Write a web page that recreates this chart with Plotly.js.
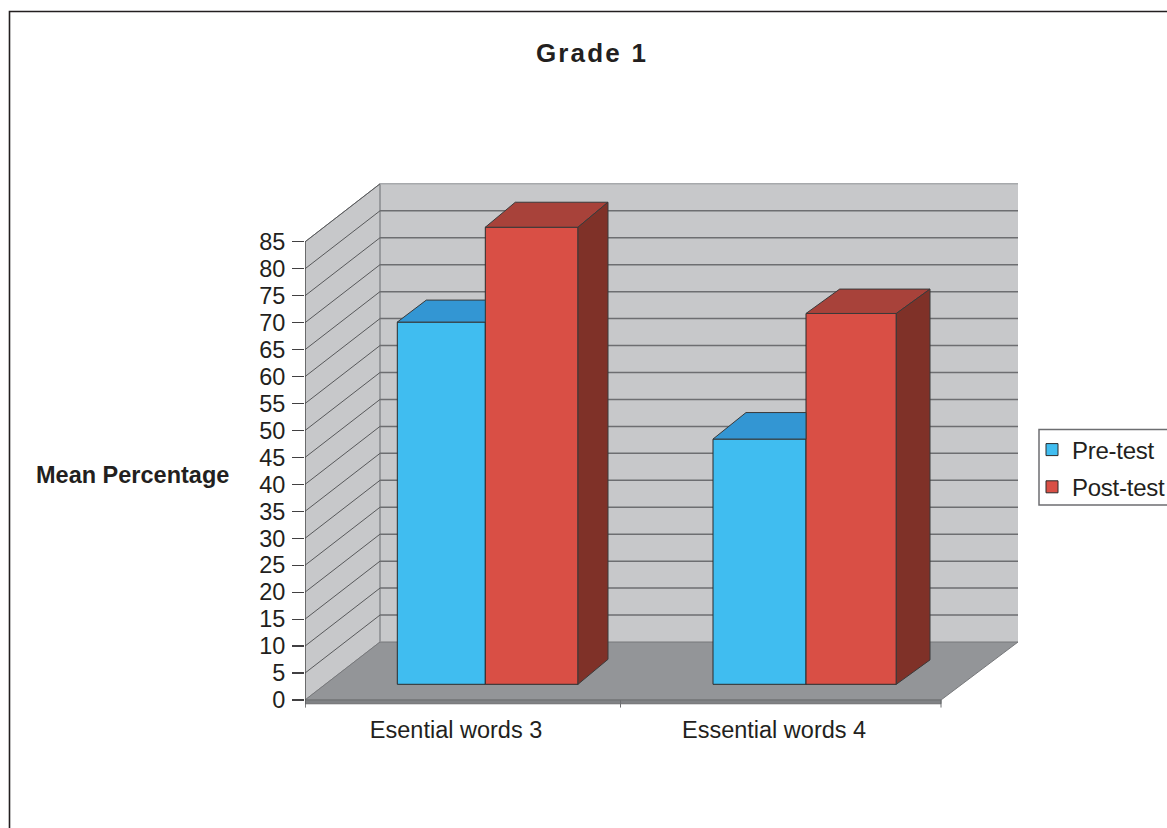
<!DOCTYPE html>
<html>
<head>
<meta charset="utf-8">
<script src="https://cdn.plot.ly/plotly-3.0.1.min.js"></script>
<style>
html,body{margin:0;padding:0;background:#fff;overflow:hidden}
#chart{width:1240px;height:828px}
.gtitle{letter-spacing:2.2px}
.legendtext{letter-spacing:-0.25px}
</style>
</head>
<body>
<div id="chart"></div>
<script>
// ---- data ----
const chartTitle = "Grade 1";
const yAxisLabel = "Mean Percentage";
const categories = ["Esential words 3", "Essential words 4"];
const seriesNames = ["Pre-test", "Post-test"];
const preTest = [67.2, 45.5];
const postTest = [84.8, 68.8];
const yTicks = [0,5,10,15,20,25,30,35,40,45,50,55,60,65,70,75,80,85];

// ---- styles ----
const font = "Liberation Sans, Arial, sans-serif";
const ink = "#231f20";
const wallColor = "#c7c8ca", floorColor = "#939598", floorEdge = "#808285", gridColor = "#6d6e71";
const preFront = "#40bdf0", preTop = "#3396d3";
const postFront = "#d94f45", postTop = "#a8423a", postSide = "#7f3128";

// ---- frame geometry (page pixels); the canvas runs past the window so the legend box is cut off at its edge ----
const W = 1240, H = 828;
const plotL = 305, plotR = W, plotT = 182, plotB = 708, zeroPx = 700;
const pxPerCat = 318, pxPerUnit = 5.39;
const X = px => (px - plotL) / pxPerCat;          // page px -> x data
const lenX = px => px / pxPerCat;
const lenY = px => px / pxPerUnit;
const paperX = px => (px - plotL) / (plotR - plotL);
const paperY = py => (plotB - py) / (plotB - plotT);

const wallDX = lenX(75), wallDY = lenY(58);
const frontEnd = categories.length;               // right end of the front edge
const backEnd = X(1018);                          // right end of the back wall
const floorLift = lenY(15.7);                     // bars stand inside the floor
const preDepthX = [lenX(29), lenX(33)], preDepthY = [lenY(22), lenY(26.5)];
const postDepthX = [lenX(30), lenX(33.7)], postDepthY = [lenY(25), lenY(24.4)];
const preLeft = [X(397.3), X(713)], midEdge = [X(485.3), X(806)], postRight = [X(578), X(896.3)];

// ---- walls, floor and grid as shapes below the traces ----
const poly = (xs, ys) => "M" + xs.map((x, i) => x + "," + ys[i]).join("L") + "Z";
const dataShape = o => Object.assign({xref: "x", yref: "y", layer: "below"}, o);
const hairline = {width: 0};
const topV = 85;
const shapes = [
  dataShape({type: "path", path: poly([wallDX, wallDX, backEnd, backEnd],
      [wallDY, topV + wallDY, topV + wallDY, wallDY]), fillcolor: wallColor, line: hairline}),
  dataShape({type: "path", path: poly([0, wallDX, wallDX, 0], [0, wallDY, topV + wallDY, topV]),
      fillcolor: wallColor, line: {color: "#8a8c8e", width: 1}}),
  dataShape({type: "path", path: poly([0, wallDX, backEnd, frontEnd], [0, wallDY, wallDY, 0]),
      fillcolor: floorColor, line: {color: "#77787b", width: 1}}),
  dataShape({type: "path", path: poly([0, frontEnd, frontEnd, 0], [0, 0, -0.7, -0.7]),
      fillcolor: floorEdge, line: {color: "#6d6e71", width: 1}}),
  dataShape({type: "line", x0: wallDX, x1: wallDX, y0: wallDY, y1: topV + wallDY, line: {color: "#939598", width: 1.5}})
];
yTicks.forEach(v => {
  if (v > 0) {
    shapes.push(dataShape({type: "line", x0: wallDX, x1: backEnd, y0: v + wallDY, y1: v + wallDY,
      line: {color: v === topV ? "#a7a9ac" : gridColor, width: 1.5}}));
    shapes.push(dataShape({type: "line", x0: 0, x1: wallDX, y0: v, y1: v + wallDY, line: {color: "#58595b", width: 1}}));
  }
});
shapes.push(dataShape({type: "line", x0: 0, x1: 0, y0: -1.4, y1: topV, line: {color: "#414042", width: 1.2}}));

// x tick marks on category boundaries
[0, X(620.5), 2].forEach(v => shapes.push(dataShape({type: "line", x0: v, x1: v, y0: -1.4, y1: 0, line: {color: "#6d6e71", width: 1}})));

// chart frame
shapes.push({type: "path", xref: "paper", yref: "paper",
  path: "M" + paperX(9.5) + "," + paperY(H + 20) + "L" + paperX(9.5) + "," + paperY(11.5) + "L" + paperX(W + 20) + "," + paperY(11.5),
  line: {color: ink, width: 1.6}, layer: "above"});
// legend box
shapes.push({type: "rect", xref: "paper", yref: "paper",
  x0: paperX(1039), x1: paperX(W + 20), y0: paperY(505), y1: paperY(429.5),
  fillcolor: "rgba(255,255,255,0)", line: {color: "#6d6e71", width: 1.5}, layer: "above"});

// ---- traces ----
const edge = {color: "#2b2b2b", width: 1};
const face = (xs, ys, fill) => ({type: "scatter", mode: "lines", x: xs.concat(xs[0]), y: ys.concat(ys[0]),
  fill: "toself", fillcolor: fill, line: {color: "#3a3a3a", width: 1}, showlegend: false, hoverinfo: "skip"});

const bar = (name, vals, lefts, rights, color, group) => ({
  type: "bar", name, legendgroup: group,
  x: lefts.map((l, i) => (l + rights[i]) / 2),
  width: lefts.map((l, i) => rights[i] - l),
  y: vals, base: vals.map(() => floorLift),
  marker: {color, line: edge}
});

const traces = [
  bar(seriesNames[0], preTest, preLeft, midEdge, preFront, "a"),
  bar(seriesNames[1], postTest, midEdge, postRight, postFront, "b")
];
categories.forEach((c, i) => {
  const preV = preTest[i] + floorLift, postV = postTest[i] + floorLift;
  const pdx = preDepthX[i], pdy = preDepthY[i], dx = postDepthX[i], dy = postDepthY[i];
  // top of the pre-test bar, cut where the post-test bar hides it
  traces.push(face([preLeft[i], preLeft[i] + pdx, midEdge[i], midEdge[i]], [preV, preV + pdy, preV + pdy, preV], preTop));
  traces.push(face([midEdge[i], midEdge[i] + dx, postRight[i] + dx, postRight[i]], [postV, postV + dy, postV + dy, postV], postTop));
  traces.push(face([postRight[i], postRight[i] + dx, postRight[i] + dx, postRight[i]],
    [floorLift, floorLift + dy, postV + dy, postV], postSide));
});

// ---- layout ----
const layout = {
  width: W, height: H,
  paper_bgcolor: "#fff", plot_bgcolor: "rgba(0,0,0,0)",
  margin: {l: plotL, r: W - plotR, t: plotT, b: H - plotB, pad: 0},
  font: {family: font, color: ink, size: 23},
  title: {text: "<b>" + chartTitle + "</b>", xref: "container", yref: "container",
    x: 592 / W, y: 1 - 53 / H, xanchor: "center", yanchor: "middle", font: {family: font, size: 26, color: ink}},
  barmode: "overlay",
  bargap: 0,
  xaxis: {
    range: [0, (plotR - plotL) / pxPerCat], showgrid: false, zeroline: false, showline: false,
    tickmode: "array", tickvals: [0.475, 1.475], ticktext: categories, ticks: "", ticklabelstandoff: 5,
    tickfont: {family: font, size: 23.5, color: ink}, fixedrange: true
  },
  yaxis: {
    range: [(zeroPx - plotB) / pxPerUnit, (zeroPx - plotT) / pxPerUnit], showgrid: false, zeroline: false, showline: false,
    tickmode: "array", tickvals: yTicks, ticktext: yTicks.map(String), ticks: "outside", ticklen: 12, tickwidth: 1.2, tickcolor: "#414042",
    ticklabelstandoff: 2, tickfont: {family: font, size: 23.5, color: ink}, fixedrange: true
  },
  legend: {
    x: paperX(1032), y: paperY(427.5), xanchor: "left", yanchor: "top",
    bgcolor: "rgba(0,0,0,0)", borderwidth: 0, traceorder: "grouped", tracegroupgap: 3,
    font: {family: font, size: 24, color: ink}
  },
  annotations: [{
    xref: "paper", yref: "paper", x: paperX(132), y: paperY(475), xanchor: "center", yanchor: "middle",
    text: "<b>" + yAxisLabel + "</b>", showarrow: false, font: {family: font, size: 23.5, color: ink}
  }],
  shapes: shapes
};

Plotly.newPlot("chart", traces, layout, {staticPlot: true, displayModeBar: false});
</script>
</body>
</html>
